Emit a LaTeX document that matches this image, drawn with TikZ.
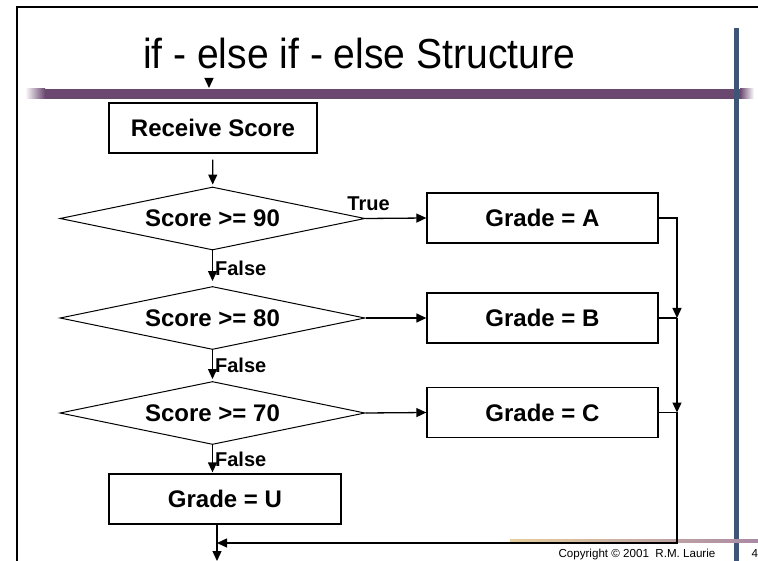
\documentclass[tikz,border=0pt]{standalone}
\usepackage{fontspec}
\setmainfont{Liberation Sans}
\usetikzlibrary{shapes.geometric,arrows.meta}
\definecolor{barPurple}{HTML}{6B4870}
\definecolor{barBlue}{HTML}{3E5577}
\definecolor{lineTan}{HTML}{E6CFA0}
\definecolor{lineMauve}{HTML}{A98AA4}
\tikzset{
  block/.style={draw,fill=white,line width=1.3pt,minimum height=50pt,inner sep=0pt,
    font=\bfseries\fontsize{24}{28}\selectfont},
  test/.style={draw,fill=white,diamond,aspect=4.8,minimum width=305pt,minimum height=63pt,
    inner sep=0pt,line width=1pt,font=\bfseries\fontsize{24}{28}\selectfont},
  flow/.style={-{Triangle[length=10pt,width=9pt]},line width=1.3pt},
  tag/.style={font=\bfseries\fontsize{20}{24}\selectfont,inner sep=2pt}
}
\begin{document}
\begin{tikzpicture}[x=1pt,y=-1pt]
    \useasboundingbox (0,0) rectangle (758,561);
    % slide frame and bars
    \draw[line width=2pt] (17,561)--(17,7)--(758,7);
    \shade[left color=white,right color=barPurple] (25,89) rectangle (45,99);
    \fill[barPurple] (45,89) rectangle (740,99);
    \shade[left color=barPurple,right color=white] (740,89) rectangle (754,99);
    \fill[barBlue] (733.5,28) rectangle (738.5,561);
    \shade[left color=lineTan,right color=lineMauve] (510,539) rectangle (758,542);
    \node[font=\fontsize{42}{48}\selectfont,xscale=0.93,anchor=base] (title) at (359,69) {if - else if - else Structure};
    \node[font=\fontsize{11.6}{14}\selectfont,anchor=base west] (copy) at (555,557) {Copyright \textcopyright{} 2001\ \ R.M. Laurie};
    \node[font=\fontsize{11.6}{14}\selectfont,anchor=base west] (page) at (748,557) {4};
    \coordinate (entry) at (209,78);
    \coordinate (barTop) at (209,88);
    \draw[flow] (entry)--(barTop);
    % flowchart
    \node[block,minimum width=208pt] (receive) at (213,128) {Receive Score};
    \node[test] (d1) at (212.5,218.5) {Score >= 90};
    \node[test] (d2) at (212.5,318) {Score >= 80};
    \node[test] (d3) at (212.5,413) {Score >= 70};
    \node[block,minimum width=231pt] (ga) at (542.5,218) {Grade = A};
    \node[block,minimum width=231pt] (gb) at (542.5,318) {Grade = B};
    \node[block,minimum width=231pt] (gc) at (542.5,412.5) {Grade = C};
    \node[block,minimum width=232pt] (gu) at (225,499) {Grade = U};
    \coordinate (rail) at (677,0);
    \coordinate (merge) at (217,543);
    \coordinate (exit) at (217,561);
    \draw[flow,shorten <=6pt,shorten >=2pt] (receive)--(d1);
    \draw[flow,shorten >=5pt] (d1)--(d2) node[tag,midway,right] {False};
    \draw[flow,shorten >=2pt] (d2)--(d3) node[tag,midway,right] {False};
    \draw[flow,shorten >=1pt] (d3.south)--(d3.south |- gu.north) node[tag,midway,right] {False};
    \draw[flow] (d1.east)--(ga.west) node[tag,pos=0.05,above=5pt] {True};
    \draw[flow] (d2.east)--(gb.west);
    \draw[flow] (d3.east)--(gc.west);
    \draw[flow] (ga.east)-|(gb.east -| rail);
    \draw[line width=1.3pt] (gb.east)--(gb.east -| rail);
    \draw[flow] (gb.east -| rail)--(gc.east -| rail);
    \draw[flow] (gc.east)-|(merge -| rail)--(merge);
    \draw[flow] (gu.south -| exit)--(exit);
\end{tikzpicture}
\end{document}
